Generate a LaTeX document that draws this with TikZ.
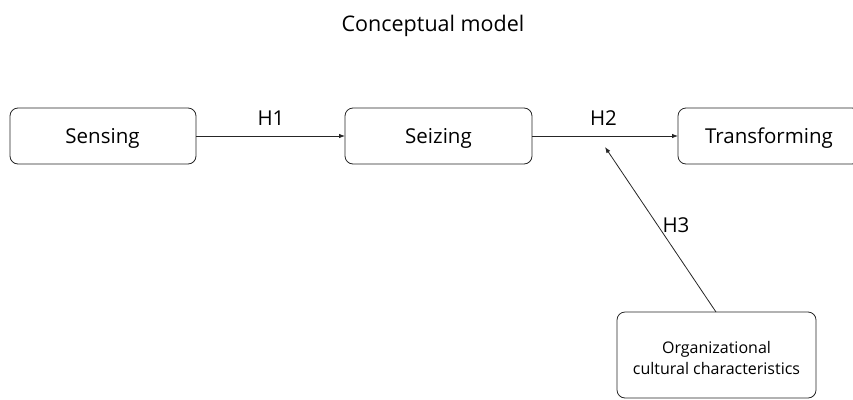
\documentclass[tikz,border=0pt]{standalone}
\usepackage{fontspec}
\setmainfont{Open Sans}
\usetikzlibrary{arrows.meta}
\begin{document}
\begin{tikzpicture}[x=1pt,y=-1pt,
  box/.style={draw=black!85, line width=0.8pt, rounded corners=8pt},
  conn/.style={draw=black!85, line width=0.8pt, -{Latex[length=6pt,width=4.5pt]}},
  lbl/.style={font=\fontsize{20.5}{24}\selectfont, inner sep=0pt, anchor=base}]
\useasboundingbox (0,0) rectangle (853,399);
\node[font=\fontsize{21.5}{25}\selectfont, inner sep=0pt, anchor=base] (title) at (433,31) {Conceptual model};
\draw[box] (10,108) rectangle (196,164);
\node[lbl] (sens) at (102.5,143) {Sensing};
\coordinate (sensE) at (196,136);
\draw[box] (345,108) rectangle (532,164);
\node[lbl] (seiz) at (438.5,143) {Seizing};
\coordinate (seizW) at (345,136);
\coordinate (seizE) at (532,136);
\draw[box] (678,108) rectangle (860,164);
\node[lbl] (trans) at (769,143) {Transforming};
\coordinate (transW) at (678,136);
\draw[box] (617,312) rectangle (816,398);
\node[align=center, font=\fontsize{16}{21}\selectfont, inner sep=0pt] (org) at (716.5,358) {Organizational\\cultural characteristics};
\coordinate (orgN) at (716,312);
\coordinate (h2pt) at (605,147);
\draw[conn] (sensE) -- (seizW);
\draw[conn] (seizE) -- (transW);
\draw[conn] (orgN) -- (h2pt);
\node[lbl] (h1) at (271,125) {H1};
\node[lbl] (h2) at (603.5,125) {H2};
\node[lbl] (h3) at (676,232) {H3};
\end{tikzpicture}
\end{document}
